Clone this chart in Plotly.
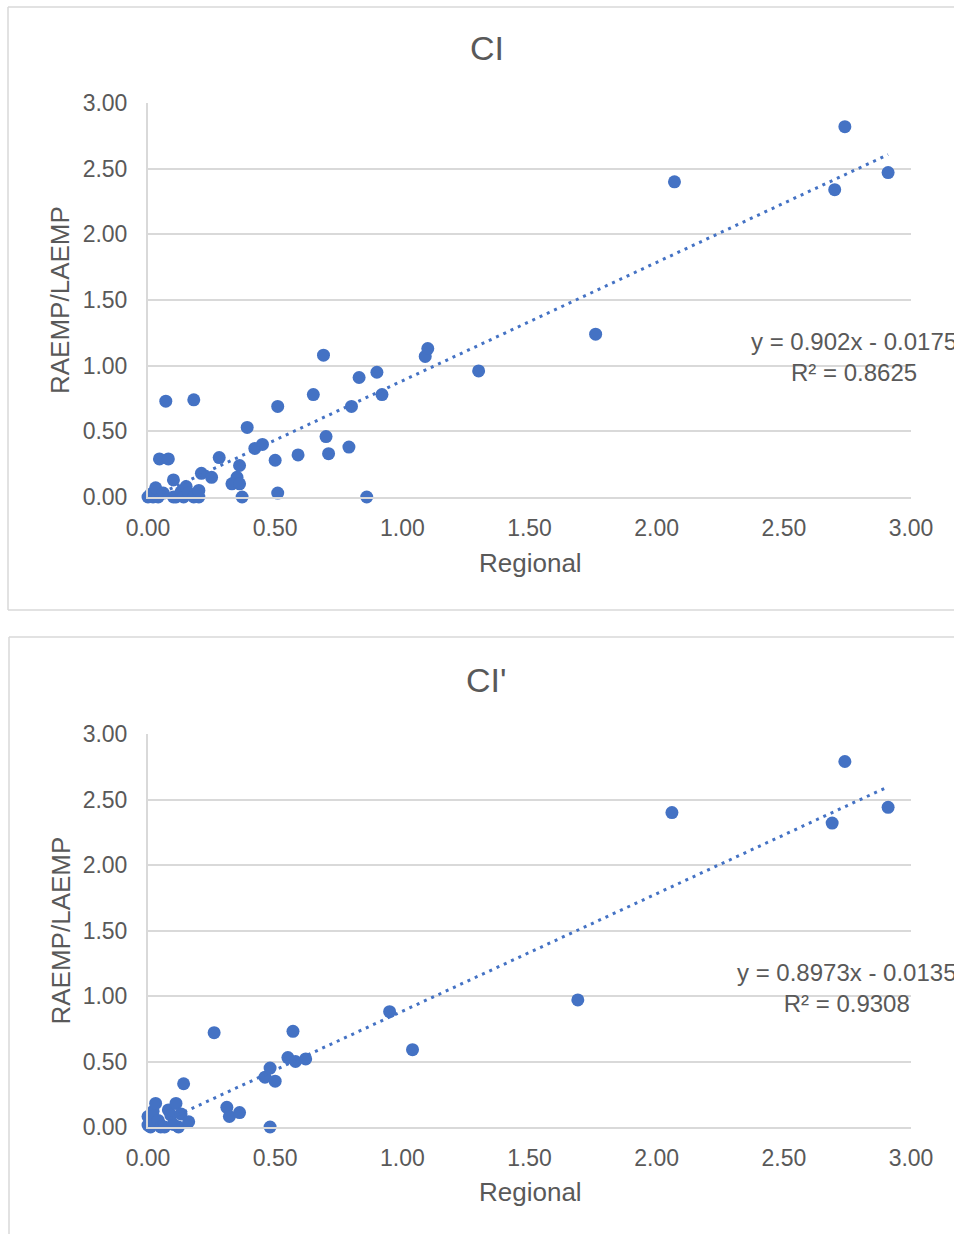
import plotly.graph_objects as go

# CI: Regional vs RAEMP/LAEMP
regional_ci = [0.00, 0.01, 0.02, 0.04, 0.05, 0.03, 0.06, 0.10, 0.11, 0.13,
               0.14, 0.15, 0.16, 0.18, 0.20, 0.20, 0.10, 0.21, 0.25, 0.045,
               0.08, 0.07, 0.18, 0.28, 0.36, 0.35, 0.33, 0.36, 0.37, 0.39,
               0.42, 0.45, 0.50, 0.51, 0.51, 0.59, 0.65, 0.69, 0.70, 0.71,
               0.79, 0.80, 0.83, 0.86, 0.90, 0.92, 1.09, 1.10, 1.30, 1.76,
               2.07, 2.70, 2.74, 2.91]
raemp_ci = [0.00, 0.02, 0.00, 0.00, 0.03, 0.07, 0.03, 0.00, 0.00, 0.04,
            0.00, 0.08, 0.03, 0.00, 0.00, 0.05, 0.13, 0.18, 0.15, 0.29,
            0.29, 0.73, 0.74, 0.30, 0.24, 0.15, 0.10, 0.10, 0.00, 0.53,
            0.37, 0.40, 0.28, 0.69, 0.03, 0.32, 0.78, 1.08, 0.46, 0.33,
            0.38, 0.69, 0.91, 0.00, 0.95, 0.78, 1.07, 1.13, 0.96, 1.24,
            2.40, 2.34, 2.82, 2.47]

# CI': Regional vs RAEMP/LAEMP
regional_cip = [0.00, 0.00, 0.01, 0.02, 0.03, 0.04, 0.05, 0.065, 0.08, 0.09,
                0.11, 0.12, 0.13, 0.14, 0.16, 0.10, 0.26, 0.31, 0.32, 0.36,
                0.46, 0.48, 0.48, 0.50, 0.55, 0.57, 0.58, 0.62, 0.95, 1.04,
                1.69, 2.06, 2.69, 2.74, 2.91]
raemp_cip = [0.015, 0.08, 0.00, 0.12, 0.18, 0.05, 0.00, 0.00, 0.13, 0.09,
             0.18, 0.00, 0.10, 0.33, 0.04, 0.02, 0.72, 0.15, 0.08, 0.11,
             0.38, 0.45, 0.00, 0.35, 0.53, 0.73, 0.50, 0.52, 0.88, 0.59,
             0.97, 2.40, 2.32, 2.79, 2.44]

# Linear trendlines (slope, intercept, R²) as reported
trend_ci = (0.902, -0.0175, 0.8625)
trend_cip = (0.8973, -0.0135, 0.9308)

tick_vals = [0, 0.5, 1, 1.5, 2, 2.5, 3]
tick_text = ["0.00", "0.50", "1.00", "1.50", "2.00", "2.50", "3.00"]

W, H = 954, 1234
BLUE = "#4472C4"
TXT = "#595959"
GRID = "#D9D9D9"
FONT = "Arial, Liberation Sans, sans-serif"


def px_x(p):
    return p / W


def px_y(p):
    return 1 - p / H


fig = go.Figure()


def add_panel(xs, ys, trend, xa, ya):
    slope, icpt, _ = trend
    fig.add_trace(go.Scatter(
        x=xs, y=ys, mode="markers", xaxis=xa, yaxis=ya,
        marker=dict(color=BLUE, size=13, line=dict(width=0)),
        cliponaxis=False, showlegend=False, hoverinfo="skip"))
    x0, x1 = min(xs), max(xs)
    fig.add_trace(go.Scatter(
        x=[x0, x1], y=[slope * x0 + icpt, slope * x1 + icpt], mode="lines",
        xaxis=xa, yaxis=ya,
        line=dict(color=BLUE, width=3, dash="3px,5px"),
        showlegend=False, hoverinfo="skip"))


add_panel(regional_ci, raemp_ci, trend_ci, "x", "y")
add_panel(regional_cip, raemp_cip, trend_cip, "x2", "y2")

axis_common = dict(
    range=[0, 3], tickvals=tick_vals, ticktext=tick_text,
    showgrid=True, gridcolor=GRID, gridwidth=2,
    showline=True, linecolor=GRID, linewidth=2,
    zeroline=False, ticks="", fixedrange=True, automargin=False,
    tickfont=dict(family=FONT, size=23, color=TXT),
)

# panel geometry in pixels: (top, bottom) of the plot area
panels = [(103, 497), (734, 1127)]
x_dom = [px_x(148), px_x(911)]

layout = dict(
    width=W, height=H, autosize=False,
    margin=dict(l=0, r=0, t=0, b=0, pad=0),
    paper_bgcolor="white", plot_bgcolor="white",
    font=dict(family=FONT, color=TXT),
    showlegend=False,
)
for i, (top, bot) in enumerate(panels):
    sfx = "" if i == 0 else str(i + 1)
    layout["xaxis" + sfx] = dict(axis_common, domain=x_dom, anchor="y" + sfx,
                                 showgrid=False, ticklabelstandoff=9)
    layout["yaxis" + sfx] = dict(axis_common, domain=[px_y(bot), px_y(top)],
                                 anchor="x" + sfx, ticklabelstandoff=14)
fig.update_layout(**layout)

# chart frames (left, top, bottom); the right side runs off the page
frame_style = dict(xref="paper", yref="paper", layer="below",
                   line=dict(color=GRID, width=1.5))
frames = [(8, 7, 610), (9, 637, None)]
for left, top, bot in frames:
    fig.add_shape(type="line", x0=px_x(left), x1=1.0,
                  y0=px_y(top), y1=px_y(top), **frame_style)
    fig.add_shape(type="line", x0=px_x(left), x1=px_x(left),
                  y0=px_y(top), y1=px_y(bot if bot else H), **frame_style)
    if bot:
        fig.add_shape(type="line", x0=px_x(left), x1=1.0,
                      y0=px_y(bot), y1=px_y(bot), **frame_style)

titles = ["CI", "CI'"]
title_y = [48, 680]
xtitle_y = [563, 1192]
eq_pos = [(854, 357), (847, 988)]
for i, (top, bot) in enumerate(panels):
    fig.add_annotation(text=titles[i], xref="paper", yref="paper",
                       x=px_x(487), y=px_y(title_y[i]), xanchor="center",
                       yanchor="middle", showarrow=False,
                       font=dict(family=FONT, size=34, color=TXT))
    fig.add_annotation(text="Regional", xref="paper", yref="paper",
                       x=px_x(530), y=px_y(xtitle_y[i]), xanchor="center",
                       yanchor="middle", showarrow=False,
                       font=dict(family=FONT, size=26, color=TXT))
    fig.add_annotation(text="RAEMP/LAEMP", xref="paper", yref="paper",
                       x=px_x(60), y=px_y((top + bot) / 2), xanchor="center",
                       yanchor="middle", showarrow=False, textangle=-90,
                       font=dict(family=FONT, size=26, color=TXT))
    slope, icpt, r2 = [trend_ci, trend_cip][i]
    sign = "-" if icpt < 0 else "+"
    eq = f"y = {slope:g}x {sign} {abs(icpt):g}<br>R² = {r2:g}"
    ex, ey = eq_pos[i]
    fig.add_annotation(text=eq, xref="paper", yref="paper",
                       x=px_x(ex), y=px_y(ey), xanchor="center",
                       yanchor="middle", align="center", showarrow=False,
                       font=dict(family=FONT, size=24, color=TXT))

fig.write_html("out.html")
